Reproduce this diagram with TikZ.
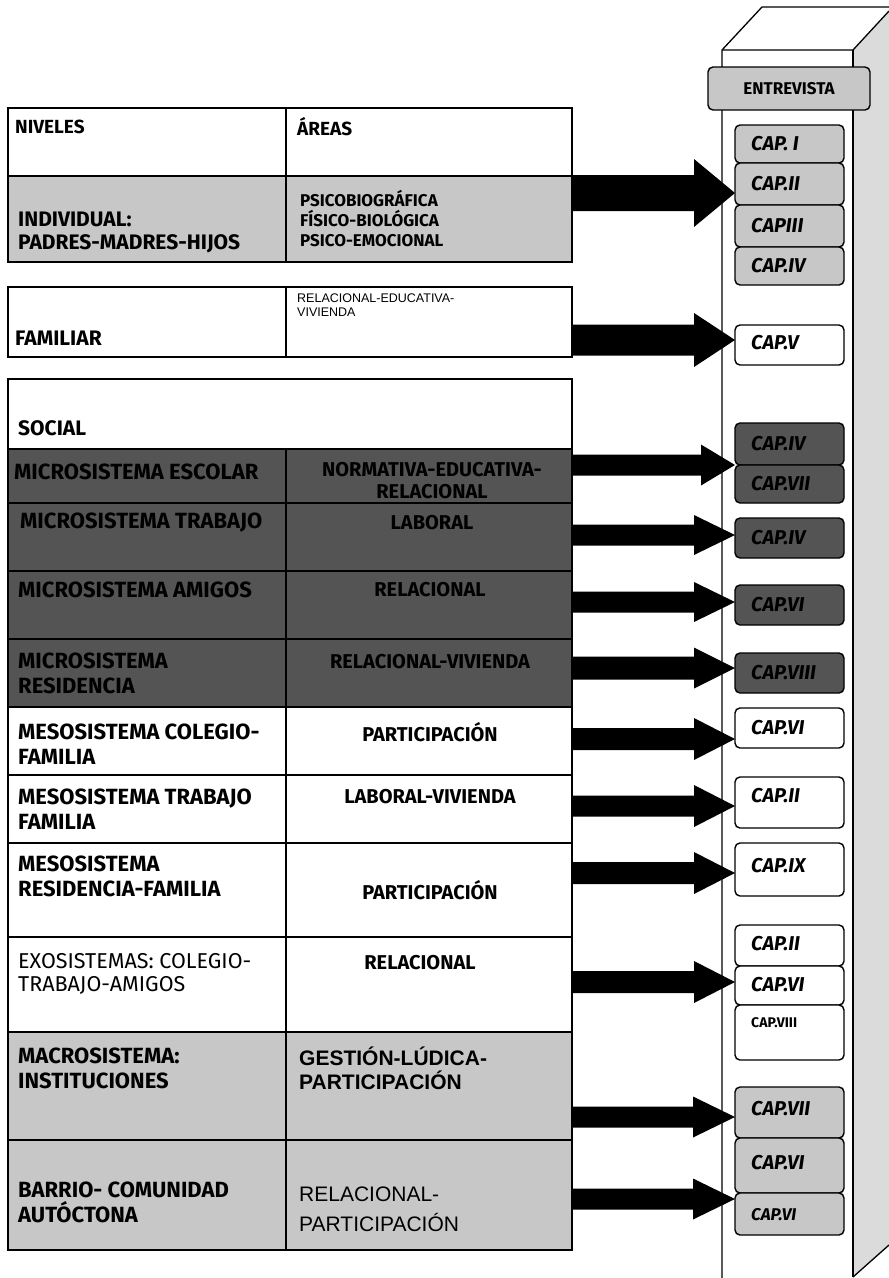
\documentclass[tikz,border=0pt]{standalone}
\usepackage{fontspec}
\setmainfont{Fira Sans}
\newfontfamily\arialf{Liberation Sans}
\usetikzlibrary{calc}
\definecolor{lightg}{gray}{0.78}
\definecolor{darkg}{gray}{0.33}
\definecolor{sideg}{gray}{0.86}
\newcommand\mkcell[6]{\node[cell,fill=#6,minimum width=#4pt,minimum height=#5pt] (#1) at (#2,#3) {};}
\newcommand\mkcap[4]{\node[capb,fill=#4,minimum height=#3pt] (#1) at (735,#2) {};}
\newcommand\blockarrow[5]{\fill let \p1=(#1),\p2=(#2) in (\x1,\y2+#3pt) -- (\x2-#5pt,\y2+#3pt) -- (\x2-#5pt,\y2+#4pt) -- (\x2,\y2) -- (\x2-#5pt,\y2-#4pt) -- (\x2-#5pt,\y2-#3pt) -- (\x1,\y2-#3pt) -- cycle;}
\begin{document}
\begin{tikzpicture}[x=1pt,y=-1pt,
  cell/.style={draw=black,line width=1.5pt,anchor=north west,inner sep=0pt,outer sep=0pt},
  capb/.style={draw=black,line width=1.4pt,rounded corners=5pt,anchor=north west,inner sep=0pt,outer sep=0pt,minimum width=109pt},
  lab/.style={anchor=west,inner sep=0pt,align=left,font=\bfseries\fontsize{22}{25}\selectfont},
  area/.style={anchor=center,inner sep=0pt,align=center,font=\bfseries\fontsize{20}{22}\selectfont},
  arl/.style={anchor=west,inner sep=0pt,align=left,font=\arialf\fontsize{12.5}{14}\selectfont},
  caplab/.style={anchor=west,inner sep=0pt,font=\bfseries\itshape\fontsize{20}{22}\selectfont}]
\useasboundingbox (0,0) rectangle (889,1278);
% ---------- 3D box ----------
\fill[sideg] (853,50) -- (889,11) -- (889,1245) -- (853,1277) -- cycle;
\draw[line width=1.3pt] (853,1277) -- (889,1245);
\draw[line width=1.3pt] (722,1278) -- (722,50) -- (762,7) -- (889,7);
\draw[line width=1.3pt] (722,50) -- (853,50) -- (889,11);
\draw[line width=1.3pt] (853,50) -- (853,1277);
% ---------- table ----------
\mkcell{hdrL}{8}{108}{278}{68}{white}
\mkcell{hdrR}{286}{108}{286}{68}{white}
\mkcell{indL}{8}{176}{278}{86}{lightg}
\mkcell{indR}{286}{176}{286}{86}{lightg}
\mkcell{famL}{8}{287}{278}{70}{white}
\mkcell{famR}{286}{287}{286}{70}{white}
\mkcell{soc}{8}{379}{564}{70}{white}
\mkcell{escL}{8}{449}{278}{54}{darkg}
\mkcell{escR}{286}{449}{286}{54}{darkg}
\mkcell{traL}{8}{503}{278}{68}{darkg}
\mkcell{traR}{286}{503}{286}{68}{darkg}
\mkcell{amiL}{8}{571}{278}{68}{darkg}
\mkcell{amiR}{286}{571}{286}{68}{darkg}
\mkcell{resL}{8}{639}{278}{68}{darkg}
\mkcell{resR}{286}{639}{286}{68}{darkg}
\mkcell{mcfL}{8}{707}{278}{68}{white}
\mkcell{mcfR}{286}{707}{286}{68}{white}
\mkcell{mtfL}{8}{775}{278}{68}{white}
\mkcell{mtfR}{286}{775}{286}{68}{white}
\mkcell{mrfL}{8}{843}{278}{94}{white}
\mkcell{mrfR}{286}{843}{286}{94}{white}
\mkcell{exoL}{8}{937}{278}{95}{white}
\mkcell{exoR}{286}{937}{286}{95}{white}
\mkcell{macL}{8}{1032}{278}{108}{lightg}
\mkcell{macR}{286}{1032}{286}{108}{lightg}
\mkcell{barL}{8}{1140}{278}{110}{lightg}
\mkcell{barR}{286}{1140}{286}{110}{lightg}
% ---------- table texts ----------
\node[lab,font=\bfseries\fontsize{19}{21}\selectfont] (tNiv) at (15,127) {NIVELES};
\node[lab,font=\bfseries\fontsize{19}{21}\selectfont] (tAre) at (297,127) {ÁREAS};
\node[lab,font=\bfseries\fontsize{21}{23}\selectfont] (tInd) at (18,232) {INDIVIDUAL:\\PADRES-MADRES-HIJOS};
\node[lab,font=\bfseries\fontsize{17}{20}\selectfont] (tPsi) at (300,219) {PSICOBIOGRÁFICA\\FÍSICO-BIOLÓGICA\\PSICO-EMOCIONAL};
\node[lab,font=\bfseries\fontsize{21}{23}\selectfont] (tFam) at (15,338) {FAMILIAR};
\node[arl] (tRev) at (297,305) {RELACIONAL-EDUCATIVA-\\VIVIENDA};
\node[lab,font=\bfseries\fontsize{21}{23}\selectfont] (tSoc) at (18,428) {SOCIAL};
\node[lab] (tEsc) at (14,472) {MICROSISTEMA ESCOLAR};
\node[area] (tNor) at (432,481) {NORMATIVA-EDUCATIVA-\\RELACIONAL};
\node[lab] (tTra) at (20,523) {MICROSISTEMA TRABAJO};
\node[lab] (tAmi) at (18,590) {MICROSISTEMA AMIGOS};
\node[area] (tLab) at (432,523) {LABORAL};
\node[area] (tRel1) at (430,590) {RELACIONAL};
\node[lab] (tRes) at (18,673) {MICROSISTEMA\\RESIDENCIA};
\node[area] (tRV) at (430,662) {RELACIONAL-VIVIENDA};
\node[lab] (tMcf) at (18,744) {MESOSISTEMA COLEGIO-\\FAMILIA};
\node[area] (tPar1) at (430,732) {PARTICIPACIÓN};
\node[lab] (tMtf) at (18,809) {MESOSISTEMA TRABAJO\\FAMILIA};
\node[area] (tLV) at (430,797) {LABORAL-VIVIENDA};
\node[lab] (tMrf) at (18,876) {MESOSISTEMA\\RESIDENCIA-FAMILIA};
\node[area] (tPar2) at (430,890) {PARTICIPACIÓN};
\node[lab,font=\fontsize{21.5}{23}\selectfont] (tExo) at (18,974) {EXOSISTEMAS: COLEGIO-\\TRABAJO-AMIGOS};
\node[area] (tRel2) at (420,963) {RELACIONAL};
\node[lab] (tMac) at (18,1068) {MACROSISTEMA:\\INSTITUCIONES};
\node[lab,font=\arialf\bfseries\fontsize{21}{24}\selectfont] (tGes) at (299,1068) {GESTIÓN-LÚDICA-\\PARTICIPACIÓN};
\node[lab] (tBar) at (18,1202) {BARRIO- COMUNIDAD\\AUTÓCTONA};
\node[lab,font=\arialf\fontsize{21}{30}\selectfont] (tRP) at (299,1209) {RELACIONAL-\\PARTICIPACIÓN};
% ---------- chapter boxes ----------
\node[capb,fill=lightg,minimum width=162pt,minimum height=43pt,font=\bfseries\fontsize{17}{19}\selectfont] (ent) at (708,67) {ENTREVISTA};
\mkcap{c1}{125}{38}{lightg}
\mkcap{c2}{163}{42}{lightg}
\mkcap{c3}{205}{42}{lightg}
\mkcap{c4}{247}{38}{lightg}
\mkcap{c5}{325}{40}{white}
\mkcap{c6}{423}{42}{darkg}
\mkcap{c7}{465}{38}{darkg}
\mkcap{c8}{518}{40}{darkg}
\mkcap{c9}{585}{40}{darkg}
\mkcap{c10}{653}{40}{darkg}
\mkcap{c11}{708}{40}{white}
\mkcap{c12}{777}{51}{white}
\mkcap{c13}{843}{53}{white}
\mkcap{c14}{925}{41}{white}
\mkcap{c15}{966}{39}{white}
\mkcap{c16}{1005}{55}{white}
\mkcap{c17}{1087}{51}{lightg}
\mkcap{c18}{1138}{55}{lightg}
\mkcap{c19}{1193}{42}{lightg}
\node[caplab] (l1) at (751,144) {CAP. I};
\node[caplab] (l2) at (751,184) {CAP.II};
\node[caplab] (l3) at (751,226) {CAPIII};
\node[caplab] (l4) at (751,266) {CAP.IV};
\node[caplab] (l5) at (751,343) {CAP.V};
\node[caplab] (l6) at (751,444) {CAP.IV};
\node[caplab] (l7) at (751,484) {CAP.VII};
\node[caplab] (l8) at (751,538) {CAP.IV};
\node[caplab] (l9) at (751,605) {CAP.VI};
\node[caplab] (l10) at (751,673) {CAP.VIII};
\node[caplab] (l11) at (751,728) {CAP.VI};
\node[caplab] (l12) at (751,796) {CAP.II};
\node[caplab] (l13) at (751,866) {CAP.IX};
\node[caplab] (l14) at (751,944) {CAP.II};
\node[caplab] (l15) at (751,985) {CAP.VI};
\node[caplab,font=\bfseries\fontsize{14}{16}\selectfont] (l16) at (751,1023) {CAP.VIII};
\node[caplab] (l17) at (751,1109) {CAP.VII};
\node[caplab] (l18) at (751,1163) {CAP.VI};
\node[caplab,font=\bfseries\itshape\fontsize{17}{19}\selectfont] (l19) at (751,1215) {CAP.VI};
% ---------- arrows ----------
\coordinate (t1) at (735,193);
\coordinate (t2) at (735,340);
\coordinate (t3) at (735,465);
\coordinate (t4) at (735,535);
\coordinate (t5) at (735,602);
\coordinate (t6) at (735,668);
\coordinate (t7) at (735,739);
\coordinate (t8) at (735,806);
\coordinate (t9) at (735,873);
\coordinate (t10) at (735,982);
\coordinate (t11) at (735,1117);
\coordinate (t12) at (735,1199);
\blockarrow{indR.east}{t1}{18}{34}{41}
\blockarrow{famR.east}{t2}{15.5}{27}{41}
\blockarrow{escR.east}{t3}{10.5}{20.5}{34}
\blockarrow{traR.east}{t4}{10.5}{20}{41}
\blockarrow{amiR.east}{t5}{10.5}{20}{41}
\blockarrow{resR.east}{t6}{11.5}{20.5}{41}
\blockarrow{mcfR.east}{t7}{11}{21}{41}
\blockarrow{mtfR.east}{t8}{10.5}{21}{41}
\blockarrow{mrfR.east}{t9}{11}{21}{41}
\blockarrow{exoR.east}{t10}{11}{21}{41}
\blockarrow{macR.east}{t11}{10.5}{20.5}{42}
\blockarrow{barR.east}{t12}{10.5}{20.5}{42}
\end{tikzpicture}
\end{document}
